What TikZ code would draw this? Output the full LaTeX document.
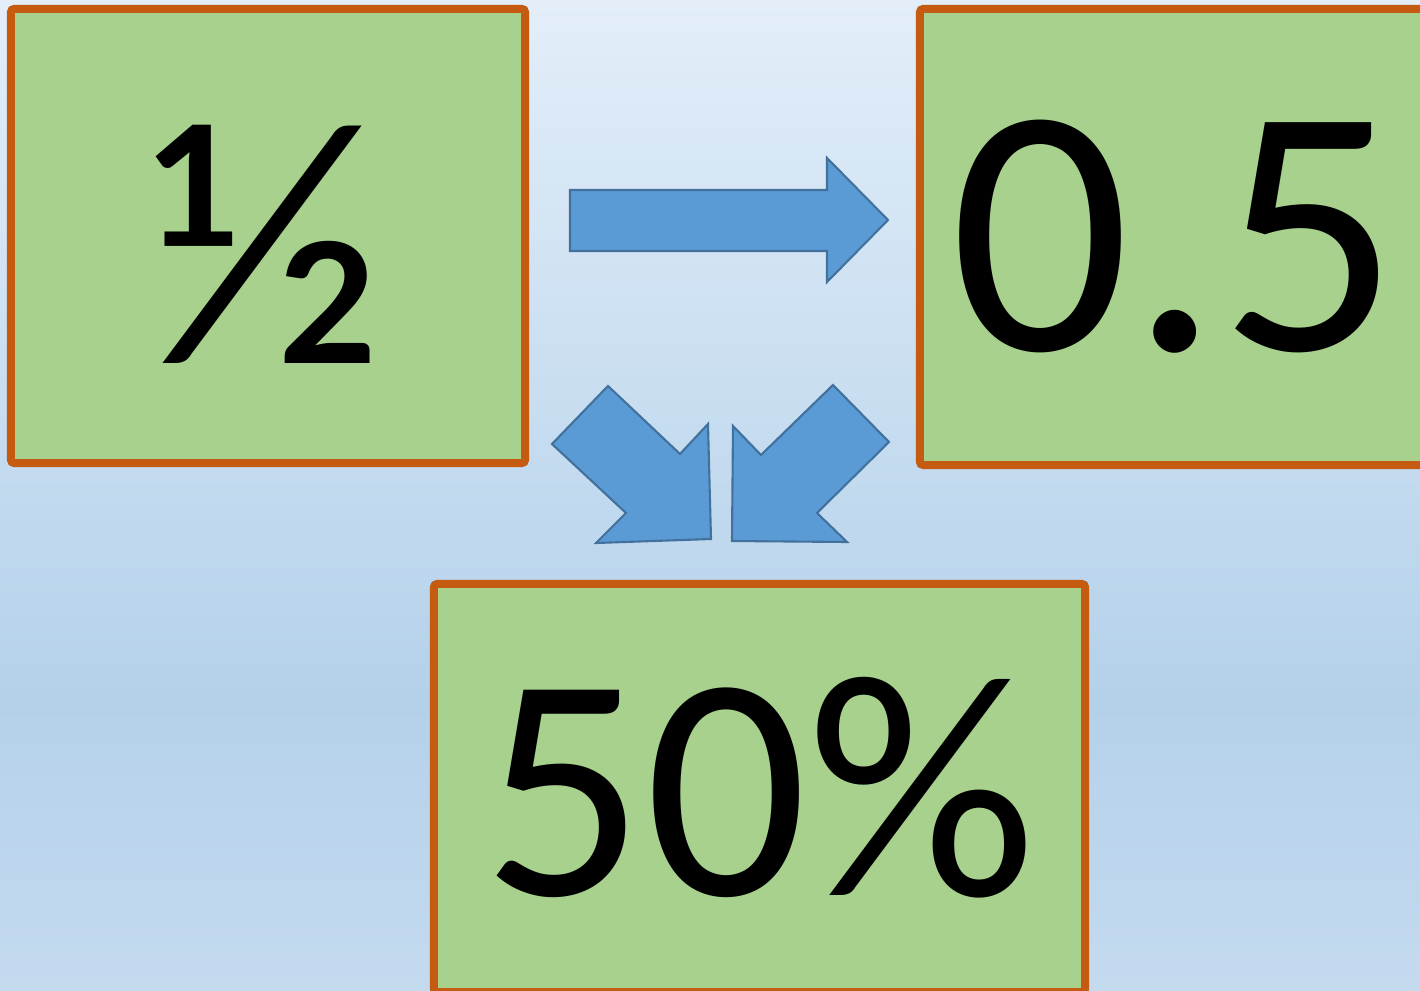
\documentclass[tikz,border=0pt]{standalone}
\usepackage{fontspec}
\setmainfont{Carlito}
\usetikzlibrary{positioning}
\definecolor{boxgreen}{HTML}{A9D18E}
\definecolor{boxorange}{HTML}{C55A11}
\definecolor{arrowfill}{HTML}{5B9BD5}
\definecolor{arrowline}{HTML}{41719C}
\definecolor{bgtop}{HTML}{E3EEF9}
\definecolor{bgmid}{HTML}{B4D1EA}
\definecolor{bgbot}{HTML}{C4DAEF}

\begin{document}
\begin{tikzpicture}[x=0.01cm, y=-0.01cm,
  numbox/.style={rectangle, draw=boxorange, fill=boxgreen, line width=0.08cm, rounded corners=1pt, inner sep=0pt},
  blockarrow/.style={fill=arrowfill, draw=arrowline, line width=0.6pt, line join=miter}
]
  \useasboundingbox (0,0) rectangle (1420,991);
  \clip (0,0) rectangle (1420,991);
  % background
  \fill[top color=bgtop, bottom color=bgmid] (0,0) rectangle (1420,700);
  \fill[top color=bgmid, bottom color=bgbot] (0,699) rectangle (1420,991);

  % number boxes
  \node[numbox, minimum width=5.14cm, minimum height=4.54cm,
    label={[font=\fontsize{100}{100}\selectfont, yshift=-0.08cm, xshift=-0.01cm]center:½}] (half) at (268,236) {};
  \node[numbox, minimum width=5.10cm, minimum height=4.56cm, font=\fontsize{101}{101}\selectfont] (decimal) at (1175,237) {0.5};
  \node[numbox, minimum width=6.51cm, minimum height=4.08cm, font=\fontsize{91}{91}\selectfont] (percent) at (759.5,788) {50\%};

  % block arrows
  \draw[blockarrow] (570,190) -- (827,190) -- (827,158) -- (888,220) -- (827,282) -- (827,251) -- (570,251) -- cycle;
  \draw[blockarrow] (608,386) -- (680,454) -- (708,424) -- (711,539) -- (596,543) -- (626,513) -- (552,444) -- cycle;
  \draw[blockarrow] (833,385) -- (889,442) -- (817,513) -- (847,542) -- (732,541) -- (733,426) -- (761,455) -- cycle;
\end{tikzpicture}
\end{document}
